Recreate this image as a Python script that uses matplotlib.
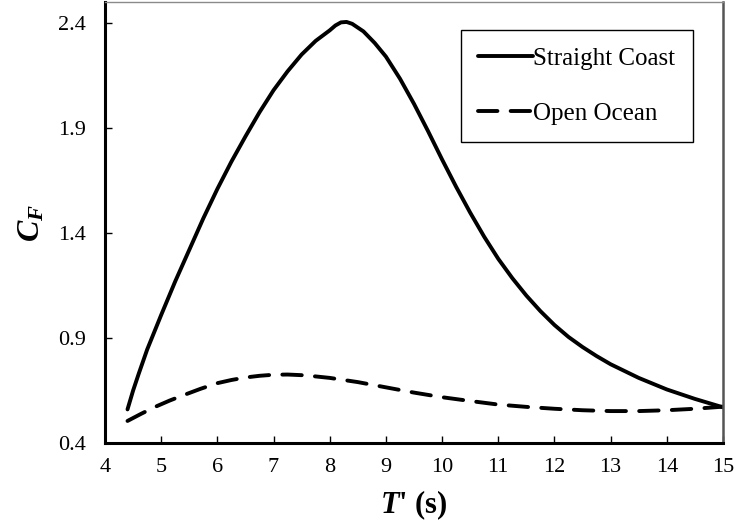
import numpy as np
import matplotlib
matplotlib.use("Agg")
import matplotlib.pyplot as plt

# values
period_coast = [4.4, 4.5, 4.6, 4.75, 5.0, 5.25, 5.5, 5.75, 6.0, 6.25, 6.5, 6.75, 7.0, 7.25,
                7.5, 7.75, 8.0, 8.1, 8.2, 8.3, 8.4, 8.6, 8.8, 9.0, 9.25, 9.5, 9.75, 10.0,
                10.25, 10.5, 10.75, 11.0, 11.25, 11.5, 11.75, 12.0, 12.25, 12.5, 12.75,
                13.0, 13.5, 14.0, 14.5, 15.0]
cf_coast = [0.56, 0.65, 0.73, 0.845, 1.01, 1.17, 1.32, 1.47, 1.61, 1.74, 1.86, 1.975, 2.08, 2.17,
            2.25, 2.315, 2.365, 2.388, 2.403, 2.405, 2.396, 2.36, 2.305, 2.24, 2.135, 2.015,
            1.885, 1.75, 1.62, 1.497, 1.382, 1.277, 1.185, 1.102, 1.028, 0.962, 0.905, 0.857,
            0.814, 0.775, 0.71, 0.655, 0.61, 0.57]

period_ocean = [4.4, 4.65, 4.9, 5.15, 5.4, 5.7, 6.0, 6.25, 6.5, 6.75, 7.0, 7.25, 7.5, 7.75,
                8.0, 8.5, 9.0, 9.5, 10.0, 10.5, 11.0, 11.5, 12.0, 12.5, 13.0, 13.5, 14.0,
                14.5, 15.0]
cf_ocean = [0.505, 0.54, 0.573, 0.602, 0.628, 0.658, 0.685, 0.70, 0.712, 0.72, 0.725, 0.726, 0.723,
            0.717, 0.71, 0.69, 0.665, 0.64, 0.618, 0.60, 0.583, 0.572, 0.563, 0.556, 0.552,
            0.552, 0.556, 0.563, 0.573]

xticks = np.arange(4, 16, 1)
yticks = [0.4, 0.9, 1.4, 1.9, 2.4]

plt.rcParams['font.family'] = ['Liberation Serif', 'DejaVu Serif']
plt.rcParams['mathtext.fontset'] = 'custom'
plt.rcParams['mathtext.rm'] = 'Liberation Serif'
plt.rcParams['mathtext.it'] = 'Liberation Serif:italic'
plt.rcParams['mathtext.bf'] = 'Liberation Serif:bold'
plt.rcParams['mathtext.bfit'] = 'Liberation Serif:bold:italic'

fig = plt.figure(figsize=(7.36, 5.26), dpi=100)
ax = fig.add_axes([0.1427, 0.1578, 0.8396, 0.8384])

ax.plot(period_coast, cf_coast, color='black', lw=2.8, solid_capstyle='round',
        solid_joinstyle='round', label='Straight Coast')
ax.plot(period_ocean, cf_ocean, color='black', lw=2.8, ls=(0, (5.0, 3.4)),
        dash_capstyle='round', label='Open Ocean')

ax.set_xlim(4, 15)
ax.set_ylim(0.4, 2.5)
ax.set_xticks(xticks)
ax.set_yticks(yticks)
ax.set_yticklabels(['%.1f' % v for v in yticks])
ax.tick_params(direction='in', length=5, width=1, labelsize=16)
ax.tick_params(axis='x', pad=11)
ax.tick_params(axis='y', pad=14)

for side in ['left', 'bottom']:
    ax.spines[side].set_linewidth(2.2)
    ax.spines[side].set_color('black')
ax.spines['top'].set_linewidth(1.0)
ax.spines['top'].set_color('#8a8a8a')
ax.spines['right'].set_linewidth(1.8)
ax.spines['right'].set_color('#555555')

ax.set_xlabel(r"$\mathbfit{T}$' (s)", fontsize=22, fontweight='bold', labelpad=8)
ax.set_ylabel(r"$\mathbfit{C}_{\mathbfit{F}}$", fontsize=23, labelpad=8)

leg = ax.legend(loc='upper left', bbox_to_anchor=(0.576, 0.937), borderaxespad=0,
                fontsize=18, handlelength=2.2, labelspacing=1.3, borderpad=0.7,
                handletextpad=0.0, fancybox=False, edgecolor='black', framealpha=1)
leg.get_frame().set_linewidth(1.0)

fig.savefig('out.png', dpi=100)
